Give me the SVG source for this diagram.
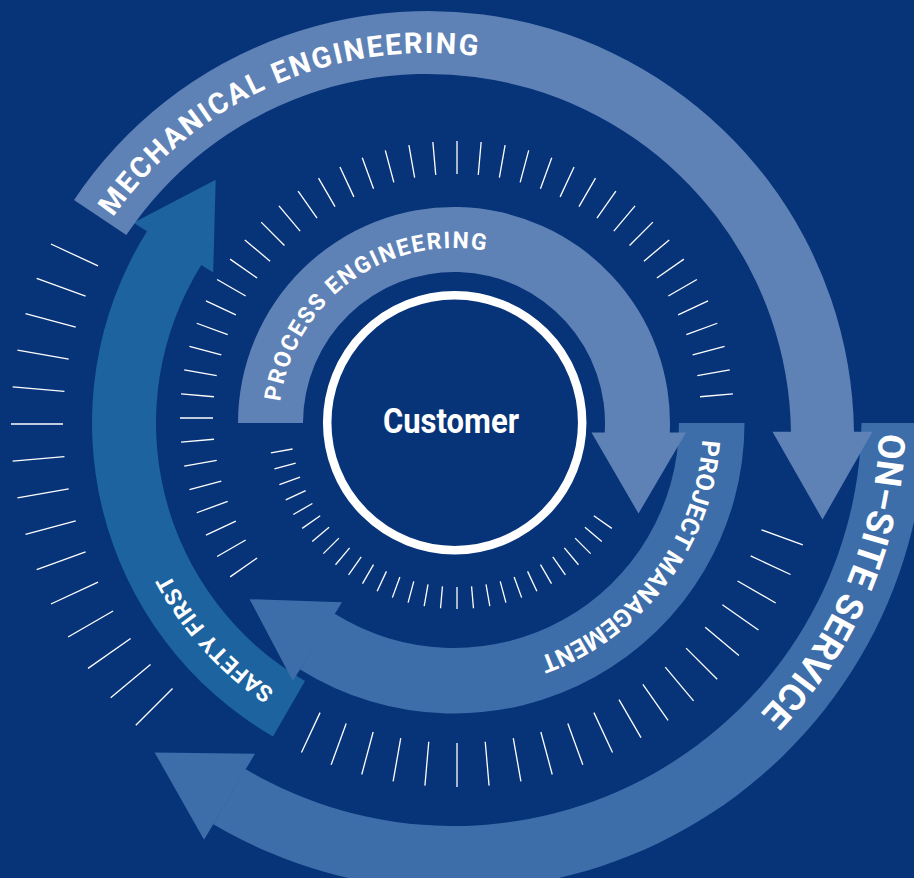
<svg xmlns="http://www.w3.org/2000/svg" width="914" height="878" viewBox="0 0 914 878">
  <defs>
    <style>
      .bg { fill: #073379; }
      .light { fill: #5f82b6; }
      .mid { fill: #3d6ea9; }
      .deep { fill: #1c63a0; }
      .tick { stroke: #ffffff; stroke-width: 1.3; stroke-linecap: butt; }
      .label { fill: #ffffff; font-family: Roboto, "Liberation Sans", sans-serif; font-weight: 700; }
    </style>
    <!-- one tick per ring, rotated into place -->
    <line id="tick-a" class="tick" x1="701" y1="418" x2="734" y2="418"/>
    <line id="tick-b" class="tick" x1="624" y1="420" x2="646" y2="420"/>
    <line id="tick-c" class="tick" x1="781" y1="419" x2="825" y2="419"/>
    <line id="tick-d" class="tick" x1="811" y1="424" x2="863" y2="424"/>
    <!-- baselines for the curved labels (all run clockwise) -->
    <path id="tp-process" d="M279,423 A175,175 0 0 1 629,423"/>
    <path id="tp-mechanical" d="M44,437 A384,384 0 0 1 812,437"/>
    <path id="tp-onsite" d="M853.8,272.3 A426,426 0 0 1 127.2,691.8"/>
    <path id="tp-project" d="M688,337.8 A249,249 0 0 1 263.3,583.1"/>
    <path id="tp-safety" d="M454,745 A322,322 0 0 1 343.9,120.4"/>
  </defs>

  <rect class="bg" x="0" y="0" width="914" height="878"/>

  <!-- tick rings -->
  <g id="ticks">
    <g id="ring-upper">
      <use href="#tick-a" transform="rotate(145 457 418)"/>
      <use href="#tick-a" transform="rotate(150 457 418)"/>
      <use href="#tick-a" transform="rotate(155 457 418)"/>
      <use href="#tick-a" transform="rotate(160 457 418)"/>
      <use href="#tick-a" transform="rotate(165 457 418)"/>
      <use href="#tick-a" transform="rotate(170 457 418)"/>
      <use href="#tick-a" transform="rotate(175 457 418)"/>
      <use href="#tick-a" transform="rotate(180 457 418)"/>
      <use href="#tick-a" transform="rotate(185 457 418)"/>
      <use href="#tick-a" transform="rotate(190 457 418)"/>
      <use href="#tick-a" transform="rotate(195 457 418)"/>
      <use href="#tick-a" transform="rotate(200 457 418)"/>
      <use href="#tick-a" transform="rotate(205 457 418)"/>
      <use href="#tick-a" transform="rotate(210 457 418)"/>
      <use href="#tick-a" transform="rotate(215 457 418)"/>
      <use href="#tick-a" transform="rotate(220 457 418)"/>
      <use href="#tick-a" transform="rotate(225 457 418)"/>
      <use href="#tick-a" transform="rotate(230 457 418)"/>
      <use href="#tick-a" transform="rotate(235 457 418)"/>
      <use href="#tick-a" transform="rotate(240 457 418)"/>
      <use href="#tick-a" transform="rotate(245 457 418)"/>
      <use href="#tick-a" transform="rotate(250 457 418)"/>
      <use href="#tick-a" transform="rotate(255 457 418)"/>
      <use href="#tick-a" transform="rotate(260 457 418)"/>
      <use href="#tick-a" transform="rotate(265 457 418)"/>
      <use href="#tick-a" transform="rotate(270 457 418)"/>
      <use href="#tick-a" transform="rotate(275 457 418)"/>
      <use href="#tick-a" transform="rotate(280 457 418)"/>
      <use href="#tick-a" transform="rotate(285 457 418)"/>
      <use href="#tick-a" transform="rotate(290 457 418)"/>
      <use href="#tick-a" transform="rotate(295 457 418)"/>
      <use href="#tick-a" transform="rotate(300 457 418)"/>
      <use href="#tick-a" transform="rotate(305 457 418)"/>
      <use href="#tick-a" transform="rotate(310 457 418)"/>
      <use href="#tick-a" transform="rotate(315 457 418)"/>
      <use href="#tick-a" transform="rotate(320 457 418)"/>
      <use href="#tick-a" transform="rotate(325 457 418)"/>
      <use href="#tick-a" transform="rotate(330 457 418)"/>
      <use href="#tick-a" transform="rotate(335 457 418)"/>
      <use href="#tick-a" transform="rotate(340 457 418)"/>
      <use href="#tick-a" transform="rotate(345 457 418)"/>
      <use href="#tick-a" transform="rotate(350 457 418)"/>
      <use href="#tick-a" transform="rotate(355 457 418)"/>
    </g>
    <g id="ring-inner">
      <use href="#tick-b" transform="rotate(35 457 420)"/>
      <use href="#tick-b" transform="rotate(40 457 420)"/>
      <use href="#tick-b" transform="rotate(45 457 420)"/>
      <use href="#tick-b" transform="rotate(50 457 420)"/>
      <use href="#tick-b" transform="rotate(55 457 420)"/>
      <use href="#tick-b" transform="rotate(60 457 420)"/>
      <use href="#tick-b" transform="rotate(65 457 420)"/>
      <use href="#tick-b" transform="rotate(70 457 420)"/>
      <use href="#tick-b" transform="rotate(75 457 420)"/>
      <use href="#tick-b" transform="rotate(80 457 420)"/>
      <use href="#tick-b" transform="rotate(85 457 420)"/>
      <use href="#tick-b" transform="rotate(90 457 420)"/>
      <use href="#tick-b" transform="rotate(95 457 420)"/>
      <use href="#tick-b" transform="rotate(100 457 420)"/>
      <use href="#tick-b" transform="rotate(105 457 420)"/>
      <use href="#tick-b" transform="rotate(110 457 420)"/>
      <use href="#tick-b" transform="rotate(115 457 420)"/>
      <use href="#tick-b" transform="rotate(120 457 420)"/>
      <use href="#tick-b" transform="rotate(125 457 420)"/>
      <use href="#tick-b" transform="rotate(130 457 420)"/>
      <use href="#tick-b" transform="rotate(135 457 420)"/>
      <use href="#tick-b" transform="rotate(140 457 420)"/>
      <use href="#tick-b" transform="rotate(145 457 420)"/>
      <use href="#tick-b" transform="rotate(150 457 420)"/>
      <use href="#tick-b" transform="rotate(155 457 420)"/>
      <use href="#tick-b" transform="rotate(160 457 420)"/>
      <use href="#tick-b" transform="rotate(165 457 420)"/>
      <use href="#tick-b" transform="rotate(170 457 420)"/>
    </g>
    <g id="ring-lower">
      <use href="#tick-c" transform="rotate(20 457 419)"/>
      <use href="#tick-c" transform="rotate(25 457 419)"/>
      <use href="#tick-c" transform="rotate(30 457 419)"/>
      <use href="#tick-c" transform="rotate(35 457 419)"/>
      <use href="#tick-c" transform="rotate(40 457 419)"/>
      <use href="#tick-c" transform="rotate(45 457 419)"/>
      <use href="#tick-c" transform="rotate(50 457 419)"/>
      <use href="#tick-c" transform="rotate(55 457 419)"/>
      <use href="#tick-c" transform="rotate(60 457 419)"/>
      <use href="#tick-c" transform="rotate(65 457 419)"/>
      <use href="#tick-c" transform="rotate(70 457 419)"/>
      <use href="#tick-c" transform="rotate(75 457 419)"/>
      <use href="#tick-c" transform="rotate(80 457 419)"/>
      <use href="#tick-c" transform="rotate(85 457 419)"/>
      <use href="#tick-c" transform="rotate(90 457 419)"/>
      <use href="#tick-c" transform="rotate(95 457 419)"/>
      <use href="#tick-c" transform="rotate(100 457 419)"/>
      <use href="#tick-c" transform="rotate(105 457 419)"/>
      <use href="#tick-c" transform="rotate(110 457 419)"/>
      <use href="#tick-c" transform="rotate(115 457 419)"/>
    </g>
    <g id="ring-outer">
      <use href="#tick-d" transform="rotate(135 437 424)"/>
      <use href="#tick-d" transform="rotate(140 437 424)"/>
      <use href="#tick-d" transform="rotate(145 437 424)"/>
      <use href="#tick-d" transform="rotate(150 437 424)"/>
      <use href="#tick-d" transform="rotate(155 437 424)"/>
      <use href="#tick-d" transform="rotate(160 437 424)"/>
      <use href="#tick-d" transform="rotate(165 437 424)"/>
      <use href="#tick-d" transform="rotate(170 437 424)"/>
      <use href="#tick-d" transform="rotate(175 437 424)"/>
      <use href="#tick-d" transform="rotate(180 437 424)"/>
      <use href="#tick-d" transform="rotate(185 437 424)"/>
      <use href="#tick-d" transform="rotate(190 437 424)"/>
      <use href="#tick-d" transform="rotate(195 437 424)"/>
      <use href="#tick-d" transform="rotate(200 437 424)"/>
      <use href="#tick-d" transform="rotate(205 437 424)"/>
    </g>
  </g>

  <!-- curved arrows: band and head in one path, each carrying its label -->
  <g id="cycle-arrows">
    <g id="safety-first">
      <path class="deep" d="M305,681.1 L273,736.5 A362,362 0 0 1 147,231.2 L201.3,265.1 A298,298 0 0 0 305,681.1 Z M133.4,222.7 L215.7,179.8 L213.2,272.5 Z"/>
      <text class="label" font-size="23" letter-spacing="0.6" text-anchor="middle"><textPath href="#tp-safety" startOffset="30%">SAFETY FIRST</textPath></text>
    </g>

    <g id="on-site-service">
      <path class="mid" d="M925.47,423 A472,472 0 0 1 213.3,824.2 L245.8,769.2 A408,408 0 0 0 861.47,423 Z M254.95,753.7 L204.05,839.7 L154.6,752.4 Z"/>
      <text class="label" font-size="37" letter-spacing="0.2" text-anchor="middle"><textPath href="#tp-onsite" startOffset="26.875%">ON–SITE SERVICE</textPath></text>
    </g>

    <g id="mechanical-engineering">
      <path class="light" d="M74,200 A426,426 0 0 1 853.97,431.7 L790.96,431.7 A363,363 0 0 0 126.3,235.1 Z M772.5,431.7 L872.5,431.7 L822.5,519.5 Z"/>
      <text class="label" font-size="29" letter-spacing="2" text-anchor="middle"><textPath href="#tp-mechanical" startOffset="36.83%">MECHANICAL ENGINEERING</textPath></text>
    </g>

    <g id="project-management">
      <path class="mid" d="M744.5,423 A290.5,290.5 0 0 1 300.1,669.4 L334.8,613.8 A225,225 0 0 0 679,423 Z M342,602.2 L292.8,681 L249.6,599.2 Z"/>
      <text class="label" font-size="25" letter-spacing="0" text-anchor="middle"><textPath href="#tp-project" startOffset="35.625%">PROJECT MANAGEMENT</textPath></text>
    </g>

    <g id="process-engineering">
      <path class="light" d="M238,423 A216,216 0 1 1 669.77,433 L604.67,433 A151,151 0 1 0 303,423 Z M591.5,432.5 L686,432.5 L638.5,513.5 Z"/>
      <text class="label" font-size="23" letter-spacing="1.7" text-anchor="middle"><textPath href="#tp-process" startOffset="30%">PROCESS ENGINEERING</textPath></text>
    </g>
  </g>

  <!-- hub -->
  <g id="customer">
    <circle cx="454.7" cy="422.7" r="127.5" fill="none" stroke="#ffffff" stroke-width="8.5"/>
    <text class="label" x="383" y="433.3" font-size="35" textLength="136" lengthAdjust="spacingAndGlyphs">Customer</text>
  </g>
</svg>
